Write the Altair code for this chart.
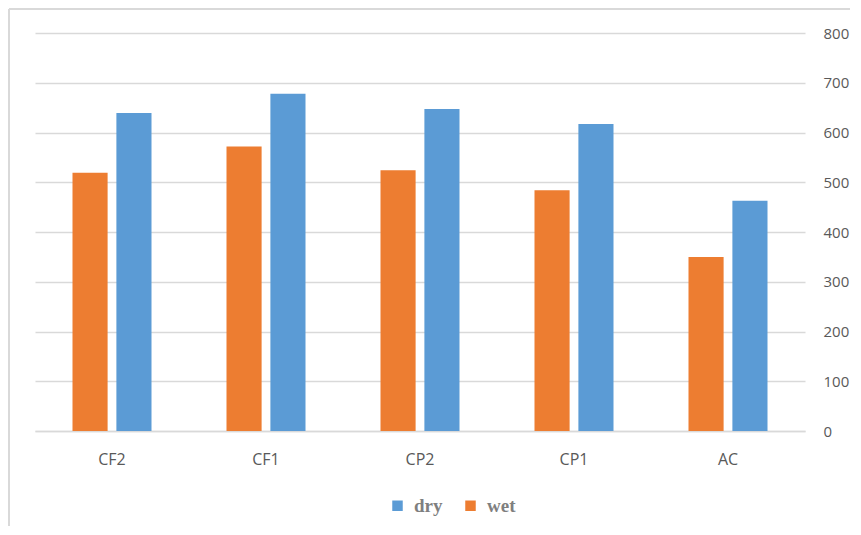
import altair as alt
import pandas as pd

categories = ["CF2", "CF1", "CP2", "CP1", "AC"]
wet = [519, 572, 524, 484, 350]
dry = [639, 678, 647, 617, 463]

rows = []
for c, w, d in zip(categories, wet, dry):
    rows.append({"cat": c, "series": "wet", "value": w})
    rows.append({"cat": c, "series": "dry", "value": d})
df = pd.DataFrame(rows)

W, H = 770, 398

bars = alt.Chart(df).mark_bar().encode(
    x=alt.X("cat:N", sort=categories,
            scale=alt.Scale(paddingInner=0.487, paddingOuter=0.2435),
            axis=alt.Axis(title=None, labelAngle=0, labelFont="Open Sans", labelFontSize=16,
                          labelColor="#595959", ticks=False, domain=True, domainColor="#d9d9d9",
                          domainWidth=1.5, labelPadding=20, grid=False)),
    xOffset=alt.XOffset("series:N", sort=["wet", "dry"],
                        scale=alt.Scale(paddingInner=0.2, paddingOuter=0)),
    y=alt.Y("value:Q", scale=alt.Scale(domain=[0, 800]),
            axis=alt.Axis(title=None, orient="right", values=list(range(0, 801, 100)),
                          labelFont="Open Sans", labelFontSize=15, labelColor="#595959",
                          ticks=False, domain=False, gridColor="#d9d9d9", gridWidth=1.5,
                          labelPadding=18)),
    color=alt.Color("series:N",
                    scale=alt.Scale(domain=["dry", "wet"], range=["#5B9BD5", "#ED7D31"]),
                    legend=alt.Legend(title=None, orient="none", direction="horizontal",
                                      legendX=353, legendY=463, symbolType="square",
                                      symbolSize=110, symbolStrokeWidth=0,
                                      labelFont="Liberation Serif", labelFontWeight="bold",
                                      labelFontSize=19, labelColor="#7f7f7f",
                                      columnPadding=18, labelOffset=7)),
)

frame_df = pd.DataFrame({"k": [0]})
left = alt.Chart(frame_df).mark_rule(color="#d9d9d9", strokeWidth=2).encode(
    x=alt.value(-26), y=alt.value(-24), y2=alt.value(H + 120))
top = alt.Chart(frame_df).mark_rule(color="#d9d9d9", strokeWidth=2).encode(
    y=alt.value(-24), x=alt.value(-26), x2=alt.value(W + 120))

chart = alt.layer(bars, left, top).properties(
    width=W, height=H,
    autosize=alt.AutoSizeParams(type="none"),
    padding={"left": 27, "top": 25, "right": 45, "bottom": 95},
).configure(background="white").configure_view(stroke=None)

chart.save("out.html", embed_options={"renderer": "svg", "actions": False})
